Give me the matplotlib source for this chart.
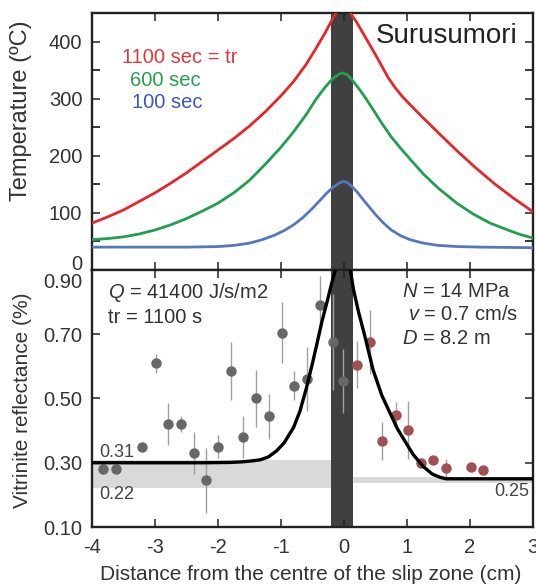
import matplotlib
matplotlib.use("Agg")
import matplotlib.pyplot as plt
import matplotlib.transforms as mtransforms

plt.rcParams['font.family'] = ['Liberation Sans', 'DejaVu Sans']
plt.rcParams['mathtext.fontset'] = 'custom'
plt.rcParams['mathtext.rm'] = 'Liberation Sans'
plt.rcParams['mathtext.it'] = 'Liberation Sans:italic'
plt.rcParams['axes.unicode_minus'] = False

# ---------------- data ----------------
# Temperature profiles (top panel)
red_x = [-4, -3.75, -3.5, -3.25, -3.0, -2.75, -2.5, -2.25, -2.0, -1.75, -1.5, -1.25,
         -1.0, -0.8, -0.6, -0.45, -0.3, -0.17, -0.08, -0.02, 0.04, 0.1, 0.2, 0.3,
         0.4, 0.5, 0.6, 0.7, 0.8, 0.9, 1.0, 1.25, 1.5, 1.8, 2.1, 2.4, 2.7, 3.0]
red_T = [82, 93, 105, 120, 135, 152, 170, 190, 210, 230, 252, 277,
         305, 330, 360, 387, 415, 442, 458, 463, 460, 450, 434, 415,
         396, 377, 357, 337, 321, 307, 295, 267, 240, 208, 178, 150, 125, 102]

green_x = [-4, -3.75, -3.5, -3.25, -3.0, -2.75, -2.5, -2.25, -2.0, -1.75, -1.5, -1.25,
           -1.0, -0.8, -0.6, -0.45, -0.3, -0.18, -0.08, -0.02, 0.05, 0.15, 0.3, 0.45,
           0.6, 0.75, 0.9, 1.05, 1.26, 1.5, 1.79, 2.05, 2.32, 2.6, 2.8, 3.0]
green_T = [53, 55, 58, 63, 70, 79, 90, 103, 117, 135, 157, 185,
           215, 242, 272, 298, 320, 335, 343, 345, 342, 330, 308, 283,
           257, 233, 213, 194, 168, 143, 117, 98, 82, 70, 62, 56]

blue_x = [-4, -2.5, -2.0, -1.75, -1.5, -1.3, -1.1, -0.95, -0.8, -0.65, -0.5, -0.38,
          -0.27, -0.17, -0.08, -0.02, 0.04, 0.12, 0.22, 0.35, 0.5, 0.62, 0.75, 0.9,
          1.05, 1.26, 1.5, 1.8, 2.2, 3.0]
blue_T = [40, 40, 41, 43, 47, 53, 61, 69, 79, 92, 108, 122,
          135, 145, 152, 155, 154, 147, 135, 117, 97, 83, 70, 60,
          53, 47, 43, 41, 40, 39]

series_labels = ["1100 sec = tr", "600 sec", "100 sec"]

# Vitrinite reflectance model curve (bottom panel)
model_x = [-4, -2.2, -1.8, -1.6, -1.45, -1.33, -1.2, -1.07, -0.95, -0.8, -0.7, -0.6,
           -0.5, -0.43, -0.35, -0.27, -0.2, -0.13, -0.06, -0.02, 0.04, 0.1, 0.15,
           0.23, 0.33, 0.46, 0.6, 0.73, 0.85, 0.99, 1.1, 1.26, 1.4, 1.52, 1.62, 3.0]
model_R = [0.30, 0.30, 0.301, 0.303, 0.306, 0.309, 0.318, 0.337, 0.362, 0.41, 0.46, 0.53,
           0.61, 0.67, 0.74, 0.80, 0.855, 0.905, 0.94, 0.95, 0.94, 0.90, 0.84,
           0.77, 0.695, 0.59, 0.51, 0.455, 0.405, 0.36, 0.325, 0.288, 0.265, 0.255, 0.25, 0.25]

# Measured vitrinite reflectance (grey = left side, red = right side)
grey_x = [-3.83, -3.62, -3.21, -2.98, -2.79, -2.59, -2.38, -2.19, -2.0, -1.79,
          -1.6, -1.39, -1.19, -0.99, -0.79, -0.59, -0.38, -0.18, -0.01]
grey_R = [0.28, 0.28, 0.35, 0.61, 0.42, 0.42, 0.33, 0.245, 0.35, 0.585,
          0.38, 0.50, 0.445, 0.705, 0.54, 0.56, 0.79, 0.675, 0.555]
grey_err = [0, 0, 0, 0.03, 0.065, 0.025, 0.065, 0.10, 0.035, 0.09,
            0.065, 0.09, 0.07, 0.095, 0.045, 0.10, 0.09, 0.15, 0.10]

red_px = [0.21, 0.41, 0.61, 0.82, 1.02, 1.22, 1.42, 1.62, 2.02, 2.21]
red_R = [0.605, 0.675, 0.367, 0.45, 0.403, 0.30, 0.307, 0.283, 0.288, 0.278]
red_err = [0.073, 0.10, 0.06, 0.04, 0.09, 0.0, 0.0, 0.03, 0.0, 0.0]

# Slip zone and background ranges
slip_zone = (-0.2, 0.15)
bg_left = (0.22, 0.31)
bg_right = (0.237, 0.255)

x_ticks = [-4, -3, -2, -1, 0, 1, 2, 3]
T_ticks = [0, 100, 200, 300, 400]
T_minor = [50, 150, 250, 350]
R_ticks = [0.10, 0.30, 0.50, 0.70, 0.90]

# ---------------- figure ----------------
fig = plt.figure(figsize=(5.36, 5.84), dpi=100)
ax1 = fig.add_axes([0.1716, 0.5377, 0.8228, 0.4401])
ax2 = fig.add_axes([0.1716, 0.0976, 0.8228, 0.4401])

c_red = '#e5262b'
c_green = '#1fa050'
c_blue = '#5577bd'
band_c = '#404040'
txt_c = '#333333'

for ax in (ax1, ax2):
    ax.set_xlim(-4, 3)
    ax.axvspan(slip_zone[0], slip_zone[1], color=band_c, zorder=1, lw=0)
    for s in ax.spines.values():
        s.set_linewidth(1.7)
        s.set_color('#222222')
    ax.tick_params(direction='in', length=6, width=1.1, top=True, right=True,
                   labelsize=14.5, color='#222222', labelcolor=txt_c)
    ax.tick_params(axis='y', pad=7)
    ax.tick_params(axis='x', pad=8)
    ax.set_xticks(x_ticks)

# top panel
ax1.plot(red_x, red_T, color=c_red, lw=2.0, zorder=3)
ax1.plot(green_x, green_T, color=c_green, lw=2.0, zorder=3)
ax1.plot(blue_x, blue_T, color=c_blue, lw=2.0, zorder=3)
ax1.set_ylim(0, 450)
ax1.set_yticks(T_ticks)
ax1.set_yticks(T_minor, minor=True)
ax1.tick_params(which='minor', direction='in', length=6, width=1.1, left=True, right=True)
ax1.tick_params(labelbottom=False)
ax1.set_ylabel('Temperature (ºC)', fontsize=17, color=txt_c)
ax1.yaxis.set_label_coords(-0.136, 0.62)

ax1.text(-3.52, 372, series_labels[0], color='#e0383c', fontsize=14.5, va='center', ha='left')
ax1.text(-3.40, 332, series_labels[1], color='#22a04a', fontsize=14.5, va='center', ha='left')
ax1.text(-3.37, 293, series_labels[2], color='#3d55c0', fontsize=14.5, va='center', ha='left')
ax1.text(0.966, 0.91, 'Surusumori', transform=ax1.transAxes, fontsize=20,
         ha='right', va='center', color='#222222')

# shift the "0" label up a little, as in the reference
lbl0 = ax1.get_yticklabels()[0]
lbl0.set_transform(lbl0.get_transform() + mtransforms.ScaledTranslation(0, 0.07, fig.dpi_scale_trans))

# bottom panel
ax2.axhspan(bg_left[0], bg_left[1], xmin=0, xmax=(slip_zone[0] + 4) / 7,
            color='#d9d9d9', lw=0, zorder=0.5)
ax2.axhspan(bg_right[0], bg_right[1], xmin=(slip_zone[1] + 4) / 7, xmax=1,
            color='#d9d9d9', lw=0, zorder=0.5)

ax2.errorbar(grey_x, grey_R, yerr=grey_err, fmt='o', color='#676767', ms=6.5,
             ecolor='#a0a0a0', elinewidth=1.0, capsize=0, zorder=4, mec='#676767')
ax2.errorbar(red_px, red_R, yerr=red_err, fmt='o', color='#a04f52', ms=6.5,
             ecolor='#a0a0a0', elinewidth=1.0, capsize=0, zorder=4, mec='#a04f52')
ax2.plot(model_x, model_R, color='black', lw=2.4, zorder=5, solid_joinstyle='round')

ax2.set_ylim(0.10, 0.90)
ax2.set_yticks(R_ticks)
ax2.set_yticklabels(['%.2f' % t for t in R_ticks])
ax2.set_xticklabels([str(t) for t in x_ticks])
lbl9 = ax2.get_yticklabels()[-1]
lbl9.set_transform(lbl9.get_transform() + mtransforms.ScaledTranslation(0, -0.11, fig.dpi_scale_trans))

ax2.set_ylabel('Vitrinite reflectance (%)', fontsize=15, color=txt_c)
ax2.yaxis.set_label_coords(-0.136, 0.494)
ax2.set_xlabel('Distance from the centre of the slip zone (cm)', fontsize=15, color=txt_c)
ax2.xaxis.set_label_coords(0.497, -0.146)

ax2.text(-3.75, 0.831, '$\\it{Q}$ = 41400 J/s/m2', fontsize=14.5, va='center', ha='left', color=txt_c)
ax2.text(-3.75, 0.753, 'tr = 1100 s', fontsize=14.5, va='center', ha='left', color=txt_c)
ax2.text(0.92, 0.834, '$\\it{N}$ = 14 MPa', fontsize=14.5, va='center', ha='left', color=txt_c)
ax2.text(1.02, 0.7625, '$\\it{v}$ = 0.7 cm/s', fontsize=14.5, va='center', ha='left', color=txt_c)
ax2.text(0.92, 0.6875, '$\\it{D}$ = 8.2 m', fontsize=14.5, va='center', ha='left', color=txt_c)
ax2.text(-3.89, 0.331, '%.2f' % bg_left[1], fontsize=13, va='center', ha='left', color='#444444')
ax2.text(-3.89, 0.20, '%.2f' % bg_left[0], fontsize=13, va='center', ha='left', color='#444444')
ax2.text(2.94, 0.209, '0.25', fontsize=13, va='center', ha='right', color='#444444')

fig.savefig('out.png', dpi=100)
